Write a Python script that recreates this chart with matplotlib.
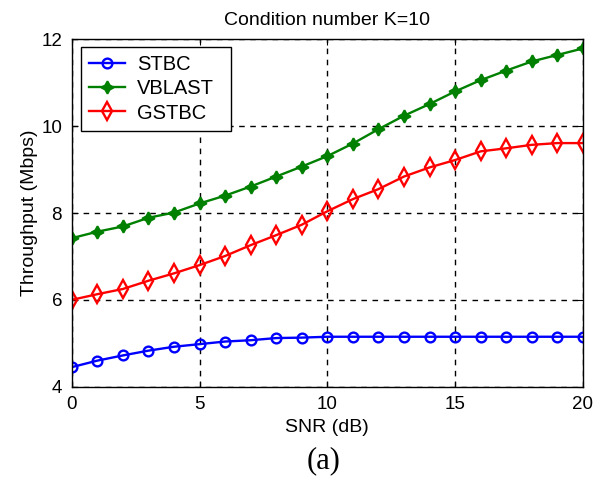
import numpy as np
import matplotlib
matplotlib.use("Agg")
import matplotlib.pyplot as plt

plt.rcParams['font.family'] = ['Liberation Sans', 'DejaVu Sans']

# data
snr = list(range(0, 21))
stbc = [4.45, 4.60, 4.72, 4.83, 4.92, 4.98, 5.04, 5.07, 5.12, 5.13, 5.15,
        5.15, 5.15, 5.15, 5.15, 5.15, 5.15, 5.15, 5.15, 5.15, 5.15]
vblast = [7.42, 7.57, 7.69, 7.89, 8.01, 8.22, 8.40, 8.61, 8.84, 9.07, 9.31,
          9.60, 9.93, 10.24, 10.51, 10.80, 11.06, 11.28, 11.49, 11.64, 11.79]
gstbc = [6.00, 6.13, 6.25, 6.44, 6.61, 6.80, 7.01, 7.26, 7.49, 7.73, 8.04,
         8.32, 8.55, 8.84, 9.05, 9.22, 9.42, 9.49, 9.57, 9.61, 9.61]
xticks = [0, 5, 10, 15, 20]
yticks = [4, 6, 8, 10, 12]

fig = plt.figure(figsize=(5.93, 4.83), dpi=100)
ax = fig.add_axes([0.121, 0.1994, 0.862, 0.7192])

ax.plot(snr, stbc, color=(0, 0, 1), lw=1.7, marker='o', ms=7, mfc='none', mew=1.7, label='STBC')
ax.plot(snr, vblast, color=(0, 0.5, 0), lw=1.7, marker=(4, 1, 0), ms=9, mew=1.4, label='VBLAST')
ax.plot(snr, gstbc, color=(1, 0, 0), lw=1.7, marker='d', ms=9, mfc='none', mew=1.7, label='GSTBC')

ax.set_xlim(0, 20)
ax.set_ylim(4, 12)
ax.set_xticks(xticks)
ax.set_yticks(yticks)
ax.tick_params(direction='in', top=True, right=True, labelsize=13.5, length=4, pad=7)
ax.grid(True, color='black', linestyle=(0, (4, 4)), lw=1)
for s in ax.spines.values():
    s.set_linewidth(1)

ax.set_title('Condition number K=10', fontsize=14, pad=10)
ax.set_xlabel('SNR (dB)', fontsize=14, labelpad=4)
ax.set_ylabel('Throughput (Mbps)', fontsize=14, labelpad=2)

# legend box stretched to the width seen in the reference
leg = ax.legend(loc='upper left', bbox_to_anchor=(0.018, 0.5, 0.293, 0.479), mode='expand',
                fontsize=14.5, fancybox=False, framealpha=1, edgecolor='black',
                borderaxespad=0, handlelength=1.8, handletextpad=0.6,
                labelspacing=0.27, borderpad=0.4)
leg.get_frame().set_linewidth(1)

fig.text(0.546, 0.047, '(a)', fontsize=22, family='Liberation Serif', ha='center', va='center')

fig.savefig('out.png', dpi=100)
